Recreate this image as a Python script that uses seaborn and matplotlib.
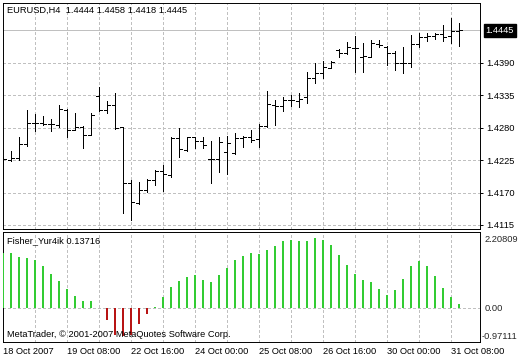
import numpy as np
import pandas as pd
import matplotlib
matplotlib.use("Agg")
import matplotlib.pyplot as plt
import matplotlib.transforms as mtransforms
import seaborn as sns

# ---------------- data ----------------
opens = [1.4225, 1.4225, 1.4229, 1.4252, 1.4288, 1.4288, 1.4286, 1.4284, 1.4310, 1.4276,
         1.4281, 1.4268, 1.4334, 1.4310, 1.4318, 1.4281, 1.4186, 1.4152, 1.4174, 1.4191,
         1.4206, 1.4200, 1.4262, 1.4242, 1.4264, 1.4257, 1.4227, 1.4227, 1.4239, 1.4237,
         1.4262, 1.4264, 1.4261, 1.4283, 1.4318, 1.4317, 1.4327, 1.4325, 1.4332, 1.4364,
         1.4373, 1.4381, 1.4412, 1.4407, 1.4415, 1.4400, 1.4400, 1.4422, 1.4417, 1.4407,
         1.4390, 1.4390, 1.4422, 1.4434, 1.4435, 1.4439, 1.4435, 1.4444]
highs = [1.4230, 1.4240, 1.4264, 1.4310, 1.4303, 1.4300, 1.4295, 1.4318, 1.4312, 1.4305,
         1.4283, 1.4305, 1.4349, 1.4325, 1.4339, 1.4281, 1.4191, 1.4188, 1.4193, 1.4208,
         1.4217, 1.4264, 1.4279, 1.4264, 1.4264, 1.4264, 1.4257, 1.4264, 1.4266, 1.4271,
         1.4266, 1.4276, 1.4286, 1.4342, 1.4327, 1.4332, 1.4335, 1.4339, 1.4374, 1.4390,
         1.4393, 1.4393, 1.4413, 1.4425, 1.4435, 1.4423, 1.4429, 1.4429, 1.4418, 1.4410,
         1.4417, 1.4437, 1.4440, 1.4440, 1.4440, 1.4454, 1.4466, 1.4458]
lows = [1.4195, 1.4223, 1.4225, 1.4249, 1.4274, 1.4284, 1.4274, 1.4281, 1.4264, 1.4276,
        1.4246, 1.4268, 1.4308, 1.4305, 1.4278, 1.4135, 1.4123, 1.4151, 1.4171, 1.4183,
        1.4173, 1.4196, 1.4230, 1.4240, 1.4246, 1.4246, 1.4186, 1.4205, 1.4201, 1.4235,
        1.4247, 1.4256, 1.4247, 1.4281, 1.4284, 1.4308, 1.4317, 1.4315, 1.4322, 1.4356,
        1.4364, 1.4381, 1.4400, 1.4405, 1.4374, 1.4374, 1.4400, 1.4417, 1.4386, 1.4378,
        1.4373, 1.4383, 1.4417, 1.4427, 1.4430, 1.4427, 1.4423, 1.4418]
closes = [1.4227, 1.4229, 1.4252, 1.4288, 1.4288, 1.4286, 1.4286, 1.4312, 1.4276, 1.4281,
          1.4268, 1.4301, 1.4310, 1.4318, 1.4279, 1.4186, 1.4154, 1.4174, 1.4191, 1.4206,
          1.4201, 1.4262, 1.4244, 1.4264, 1.4257, 1.4251, 1.4227, 1.4256, 1.4254, 1.4262,
          1.4264, 1.4259, 1.4283, 1.4320, 1.4317, 1.4327, 1.4327, 1.4329, 1.4364, 1.4373,
          1.4383, 1.4391, 1.4407, 1.4417, 1.4415, 1.4401, 1.4423, 1.4420, 1.4407, 1.4390,
          1.4390, 1.4422, 1.4434, 1.4435, 1.4439, 1.4434, 1.4444, 1.4445]
fisher = [1.62, 1.62, 1.50, 1.47, 1.41, 1.23, 1.00, 0.80, 0.57, 0.36,
          0.22, 0.22, 0.00, -0.34, -0.78, -0.80, -0.78, -0.47, -0.17, 0.04,
          0.34, 0.62, 0.79, 0.91, 0.98, 0.82, 0.76, 0.96, 1.17, 1.40,
          1.53, 1.62, 1.58, 1.70, 1.82, 1.96, 1.99, 1.96, 1.96, 2.05,
          1.99, 1.85, 1.55, 1.26, 1.00, 0.83, 0.77, 0.56, 0.39, 0.53,
          0.85, 1.23, 1.38, 1.23, 0.94, 0.60, 0.33, 0.13716]
xtick_bars = [0, 8, 16, 24, 32, 40, 48, 56]
xtick_labels = ["18 Oct 2007", "19 Oct 08:00", "22 Oct 16:00", "24 Oct 00:00",
                "25 Oct 08:00", "26 Oct 16:00", "30 Oct 00:00", "31 Oct 08:00"]
price_ticks = [1.4115, 1.4170, 1.4225, 1.4280, 1.4335, 1.4390]
price_labels = ["1.4115", "1.4170", "1.4225", "1.4280", "1.4335", "1.4390"]
bid = 1.4445
bid_label = "1.4445"
title_text = "EURUSD,H4  1.4444 1.4458 1.4418 1.4445"
ind_text = "Fisher_Yur4ik 0.13716"
ind_max, ind_min = 2.20809, -0.97111
ind_max_label, ind_zero_label, ind_min_label = "2.20809", "0.00", "-0.97111"
footer = "MetaTrader, \u00a9 2001-2007 MetaQuotes Software Corp."

# ---------------- style ----------------
sns.set_style("white")
plt.rcParams['font.family'] = ['Liberation Sans', 'DejaVu Sans']
FS = 6.7
LW = 0.7
GRID = '#c0c0c0'

W, H = 520, 360
fig = plt.figure(figsize=(5.2, 3.6), dpi=100)
fig.patch.set_facecolor('white')


def rect(l, t, r, b):
    return [l / W, 1 - b / H, (r - l) / W, (b - t) / H]


ax = fig.add_axes(rect(2.5, 2.7, 480, 229.3))
axi = fig.add_axes(rect(2.5, 231.7, 480, 341.7))

n = len(opens)
x = np.arange(n)
xlim = (-0.1, 59.59)

for a in (ax, axi):
    a.set_xlim(*xlim)
    a.xaxis.remove_overlapping_locs = False
    a.set_xticks(np.arange(4, 57, 4), minor=True)
    a.grid(which='minor', axis='x', color=GRID, lw=LW, ls=(0, (3, 3)), antialiased=False)
    a.grid(which='major', axis='x', visible=False)
    for s in a.spines.values():
        s.set_color('black')
        s.set_linewidth(LW)
    a.tick_params(which='minor', length=0)
    a.set_axisbelow(True)

# ---------------- main price panel ----------------
ax.set_ylim(1.41077, 1.44918)
ax.set_xticks([])
ax.yaxis.tick_right()
ax.set_yticks(price_ticks)
ax.set_yticklabels(price_labels)
ax.tick_params(axis='y', which='major', direction='out', length=2.2, width=LW,
               pad=2.5, labelsize=FS, colors='black')
ax.grid(which='major', axis='y', color=GRID, lw=LW, ls=(0, (3, 3)), antialiased=False)

ax.axhline(bid, color=GRID, lw=LW, zorder=1, antialiased=False)

ax.vlines(x, lows, highs, color='black', lw=LW, antialiased=False, zorder=3)
ax.hlines(opens, x - 0.375, x, color='black', lw=LW, antialiased=False, zorder=3)
ax.hlines(closes, x, x + 0.375, color='black', lw=LW, antialiased=False, zorder=3)

tr_main = mtransforms.blended_transform_factory(fig.transFigure, ax.transData)
ax.text(485.5 / W, bid, bid_label, transform=tr_main, ha='left', va='center',
        fontsize=FS, color='white',
        bbox=dict(boxstyle='square,pad=0.2', fc='black', ec='black'))

fig.text(7 / W, 1 - 10.5 / H, title_text, ha='left', va='center', fontsize=FS, color='black')

# ---------------- indicator panel ----------------
df = pd.DataFrame({'bar': x, 'value': fisher,
                   'sign': np.where(np.array(fisher) >= 0, 'up', 'down')})
sns.barplot(data=df, x='bar', y='value', hue='sign',
            palette={'up': '#33cc33', 'down': '#b81414'},
            native_scale=True, width=0.2, dodge=False, legend=False,
            saturation=1, linewidth=0, ax=axi, zorder=3)
axi.set_xlim(*xlim)
axi.set_ylim(-0.974, 2.234)
axi.set_xlabel('')
axi.set_ylabel('')
axi.axhline(0, color=GRID, lw=LW, ls=(0, (3, 3)), zorder=1, antialiased=False)
axi.set_yticks([])
axi.set_xticks(xtick_bars)
axi.set_xticklabels(xtick_labels)
for lab in axi.get_xticklabels():
    lab.set_ha('left')
axi.tick_params(axis='x', which='major', direction='out', length=2.5, width=LW,
                pad=1.5, labelsize=FS, colors='black')

fig.text(485 / W, 1 - 239 / H, ind_max_label, ha='left', va='center', fontsize=FS)
tr_ind = mtransforms.blended_transform_factory(fig.transFigure, axi.transData)
axi.text(485 / W, 0, ind_zero_label, transform=tr_ind, ha='left', va='center', fontsize=FS)
fig.text(481.5 / W, 1 - 336.5 / H, ind_min_label, ha='left', va='center', fontsize=FS)

fig.text(7 / W, 1 - 241 / H, ind_text, ha='left', va='center', fontsize=FS, color='black')
fig.text(7 / W, 1 - 334.5 / H, footer, ha='left', va='center', fontsize=FS, color='black', zorder=5)

fig.savefig('out.png', dpi=100, facecolor='white')
